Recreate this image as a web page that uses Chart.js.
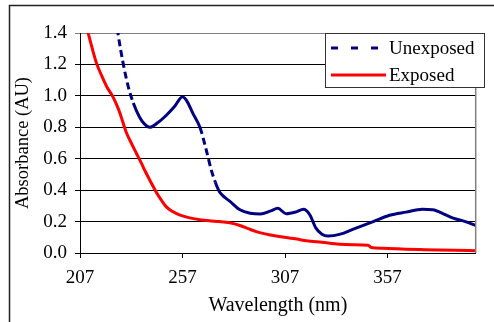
<!DOCTYPE html>
<html>
<head>
<meta charset="utf-8">
<script src="https://cdn.jsdelivr.net/npm/chart.js@4"></script>
<style>
  html, body { margin: 0; padding: 0; background: #fff; }
  #wrap { width: 494px; height: 322px; }
</style>
</head>
<body>
<div id="wrap"><canvas id="chart" width="494" height="322"></canvas></div>
<script>
// Unexposed sample (navy, dashed where steep)
const unexposedNm  = [224.5, 225.5, 228, 230.5, 233, 236, 238.5, 241, 245, 249, 253, 257, 259, 262, 265.5, 268.5, 271, 273, 275, 278, 280, 285, 290, 295, 300, 303.5, 307.5, 312.5, 316, 319, 322, 325, 328, 334, 340, 350, 358, 366, 374, 379, 385, 389, 395, 400];
const unexposedAbs = [1.50, 1.40, 1.21, 1.06, 0.955, 0.866, 0.82, 0.80, 0.83, 0.875, 0.93, 0.995, 0.97, 0.89, 0.80, 0.66, 0.53, 0.45, 0.39, 0.35, 0.33, 0.275, 0.253, 0.248, 0.268, 0.284, 0.25, 0.262, 0.278, 0.245, 0.16, 0.12, 0.108, 0.12, 0.15, 0.20, 0.24, 0.26, 0.278, 0.275, 0.245, 0.222, 0.20, 0.175];

// Exposed sample (red)
const exposedNm  = [210, 211, 213, 215, 217.5, 220, 223, 225, 226.5, 229.5, 232, 234.5, 237, 238.5, 241, 244.5, 247, 249, 252, 255.5, 260, 265.5, 270, 275, 280, 285, 289, 293, 300, 307.5, 312, 317.5, 325, 333.5, 340, 347.5, 349, 355, 366, 375, 382, 390, 400];
const exposedAbs = [1.46, 1.40, 1.30, 1.21, 1.13, 1.06, 0.995, 0.94, 0.89, 0.77, 0.70, 0.635, 0.57, 0.528, 0.465, 0.38, 0.33, 0.295, 0.265, 0.242, 0.225, 0.212, 0.205, 0.20, 0.192, 0.175, 0.155, 0.136, 0.115, 0.098, 0.09, 0.078, 0.068, 0.056, 0.053, 0.05, 0.035, 0.03, 0.024, 0.021, 0.019, 0.017, 0.015];

const xTicks = [207, 257, 307, 357];
const xMin = 207;
const xMax = 400;
const yMax = 1.4;
const yStep = 0.2;

const serif = '"Liberation Serif", "Times New Roman", serif';

function toPoints(xs, ys) {
    return xs.map((x, i) => ({ x: x, y: ys[i] }));
}

// dashes only show on steep stretches, like the original
function steepDash(ctx) {
    const dx = Math.abs(ctx.p1.x - ctx.p0.x);
    const dy = Math.abs(ctx.p1.y - ctx.p0.y);
    return dy / Math.max(dx, 0.001) > 2.5 ? [7, 4] : undefined;
}

const framePlugin = {
    id: 'frame',
    afterDraw(chart) {
        const c = chart.ctx;
        const area = chart.chartArea;
        c.save();
        // outer chart frame (only top & left visible)
        c.strokeStyle = '#222';
        c.lineWidth = 1.5;
        c.beginPath();
        c.moveTo(9.5, 322);
        c.lineTo(9.5, 5.5);
        c.lineTo(494, 5.5);
        c.stroke();
        // plot area right border
        c.strokeStyle = '#808080';
        c.lineWidth = 1.5;
        c.beginPath();
        c.moveTo(area.right, area.top);
        c.lineTo(area.right, area.bottom);
        c.stroke();

        // legend box
        const bx = 325, by = 33, bw = 159, bh = 54;
        c.fillStyle = '#fff';
        c.fillRect(bx, by, bw, bh);
        c.strokeStyle = '#333';
        c.lineWidth = 1;
        c.strokeRect(bx + 0.5, by + 0.5, bw, bh);
        c.font = '19px ' + serif;
        c.textBaseline = 'middle';
        c.fillStyle = '#000';
        chart.data.datasets.forEach((ds, i) => {
            const y = by + 15 + i * 27;
            c.strokeStyle = ds.borderColor;
            c.lineWidth = 3;
            c.setLineDash(ds.legendDash || []);
            c.beginPath();
            c.moveTo(bx + 6, y);
            c.lineTo(bx + 61, y);
            c.stroke();
            c.setLineDash([]);
            c.fillText(ds.label, bx + 64, y + 1);
        });
        c.restore();
    }
};

new Chart(document.getElementById('chart'), {
    type: 'line',
    data: {
        datasets: [{
            label: 'Unexposed',
            data: toPoints(unexposedNm, unexposedAbs),
            borderColor: '#000080',
            borderWidth: 3,
            pointRadius: 0,
            cubicInterpolationMode: 'monotone',
            legendDash: [7, 13],
            segment: { borderDash: steepDash }
        }, {
            label: 'Exposed',
            data: toPoints(exposedNm, exposedAbs),
            borderColor: '#ff0000',
            borderWidth: 3,
            pointRadius: 0,
            cubicInterpolationMode: 'monotone'
        }]
    },
    options: {
        responsive: false,
        animation: false,
        layout: { padding: { top: 33, right: 18.3, left: 0, bottom: 0 } },
        plugins: {
            legend: { display: false },
            tooltip: { enabled: false }
        },
        scales: {
            x: {
                type: 'linear',
                min: xMin,
                max: xMax,
                afterBuildTicks: scale => { scale.ticks = xTicks.map(v => ({ value: v })); },
                afterFit: scale => { scale.height = 69; },
                grid: { drawOnChartArea: false, color: '#000', tickLength: 5 },
                border: { color: '#000', width: 1 },
                ticks: {
                    color: '#000',
                    font: { family: serif, size: 19 },
                    padding: 9,
                    autoSkip: false,
                    maxRotation: 0,
                    callback: v => String(v)
                },
                title: {
                    display: true,
                    text: 'Wavelength (nm)',
                    color: '#000',
                    font: { family: serif, size: 20 },
                    padding: { top: 0, bottom: 4 }
                }
            },
            y: {
                min: 0,
                max: yMax,
                afterFit: scale => { scale.width = 80; },
                grid: {
                    color: ctx => (ctx.tick && ctx.tick.value > yMax - 0.01) ? '#808080' : '#000',
                    lineWidth: 1,
                    tickLength: 5
                },
                border: { color: '#000', width: 1 },
                ticks: {
                    stepSize: yStep,
                    color: '#000',
                    font: { family: serif, size: 19 },
                    padding: 8,
                    callback: v => Number(v).toFixed(1)
                },
                title: {
                    display: true,
                    text: 'Absorbance (AU)',
                    color: '#000',
                    font: { family: serif, size: 18.5 },
                    padding: { top: 12, bottom: 0 }
                }
            }
        }
    },
    plugins: [framePlugin]
});
</script>
</body>
</html>
